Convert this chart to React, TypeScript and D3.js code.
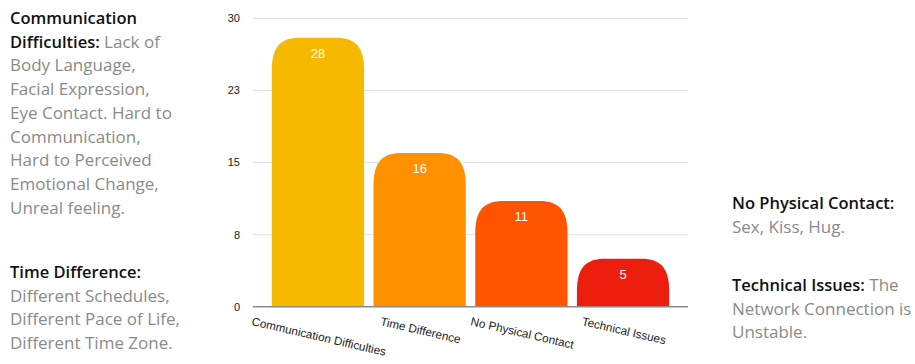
import React, { useEffect, useRef } from "react";
import * as d3 from "d3";

const categories = ["Communication Difficulties", "Time Difference", "No Physical Contact", "Technical Issues"];
const values = [28, 16, 11, 5];
const barColors = ["#F6B900", "#FF9100", "#FF5500", "#EC1F0E"];
const yTicks = [0, 7.5, 15, 22.5, 30];

const leftBlock1 = [
  [{ t: "Communication", b: true }],
  [{ t: "Difficulties:", b: true }, { t: " Lack of", b: false }],
  [{ t: "Body Language,", b: false }],
  [{ t: "Facial Expression,", b: false }],
  [{ t: "Eye Contact. Hard to", b: false }],
  [{ t: "Communication,", b: false }],
  [{ t: "Hard to Perceived", b: false }],
  [{ t: "Emotional Change,", b: false }],
  [{ t: "Unreal feeling.", b: false }],
];
const leftBlock2 = [
  [{ t: "Time Difference:", b: true }],
  [{ t: "Different Schedules,", b: false }],
  [{ t: "Different Pace of Life,", b: false }],
  [{ t: "Different Time Zone.", b: false }],
];
const rightBlock1 = [
  [{ t: "No Physical Contact:", b: true }],
  [{ t: "Sex, Kiss, Hug.", b: false }],
];
const rightBlock2 = [
  [{ t: "Technical Issues:", b: true }, { t: " The", b: false }],
  [{ t: "Network Connection is", b: false }],
  [{ t: "Unstable.", b: false }],
];

const W = 915;
const H = 364;

export default function App() {
  const ref = useRef<SVGSVGElement>(null);

  useEffect(() => {
    const svg = d3.select(ref.current);
    svg.selectAll("*").remove();

    const x = d3.scaleBand<string>().domain(categories).range([253, 688]).paddingInner(0.093).paddingOuter(0.185);
    const y = d3.scaleLinear().domain([0, 30]).range([306.7, 18.5]);

    // gridlines
    svg.append("g")
      .selectAll("line")
      .data(yTicks.filter((d) => d > 0))
      .join("line")
      .attr("x1", 253)
      .attr("x2", 688)
      .attr("y1", (d) => y(d))
      .attr("y2", (d) => y(d))
      .attr("stroke", "#e2e2e2")
      .attr("stroke-width", 1);

    // y tick labels
    svg.append("g")
      .selectAll("text")
      .data(yTicks)
      .join("text")
      .attr("x", 240)
      .attr("y", (d) => y(d))
      .attr("dy", "0.35em")
      .attr("text-anchor", "end")
      .attr("font-family", "Liberation Sans, Arial, sans-serif")
      .attr("font-size", 11)
      .attr("fill", "#222")
      .text((d) => String(Math.round(d)));

    // bars
    const bw = x.bandwidth();
    const barPath = (d: number, i: number) => {
      const x0 = x(categories[i])!;
      const x1 = x0 + bw;
      const top = y(d);
      const bot = y(0);
      const rx = 28;
      const ry = Math.min(32, bot - top);
      const k = 0.3;
      return `M${x0},${bot} L${x0},${top + ry} C${x0},${top + ry * k} ${x0 + rx * k},${top} ${x0 + rx},${top} L${x1 - rx},${top} C${x1 - rx * k},${top} ${x1},${top + ry * k} ${x1},${top + ry} L${x1},${bot} Z`;
    };
    svg.append("g")
      .selectAll("path")
      .data(values)
      .join("path")
      .attr("d", (d, i) => barPath(d, i))
      .attr("fill", (d, i) => barColors[i]);

    // value labels
    svg.append("g")
      .selectAll("text")
      .data(values)
      .join("text")
      .attr("x", (d, i) => x(categories[i])! + bw / 2)
      .attr("y", (d) => y(d) + 20)
      .attr("text-anchor", "middle")
      .attr("font-family", "Liberation Sans, Arial, sans-serif")
      .attr("font-size", 13)
      .attr("fill", "#ffffff")
      .text((d) => String(d));

    // baseline
    svg.append("line")
      .attr("x1", 253)
      .attr("x2", 688)
      .attr("y1", y(0))
      .attr("y2", y(0))
      .attr("stroke", "#8a8a8a")
      .attr("stroke-width", 1.5);

    // x labels rotated
    const angle = 13;
    const rad = (angle * Math.PI) / 180;
    const xl = svg.append("g");
    categories.forEach((c) => {
      const t = xl.append("text")
        .attr("font-family", "Liberation Sans, Arial, sans-serif")
        .attr("font-size", 11.7)
        .attr("fill", "#222")
        .attr("text-anchor", "start")
        .text(c);
      const w = (t.node() as SVGTextElement).getComputedTextLength();
      const cx = x(c)! + bw / 2;
      const px = cx - (w * Math.cos(rad)) / 2;
      const py = 325;
      t.attr("transform", `translate(${px},${py}) rotate(${angle})`);
    });

    // side notes
    const fam = "'Open Sans', sans-serif";
    const drawBlock = (lines: { t: string; b: boolean }[][], x0: number, y0: number, lh: number) => {
      const g = svg.append("g");
      lines.forEach((line, li) => {
        const tx = g.append("text")
          .attr("x", x0)
          .attr("y", y0 + li * lh)
          .attr("font-family", fam);
        line.forEach((seg) => {
          tx.append("tspan")
            .attr("fill", seg.b ? "#111" : "#8a8a8a")
            .attr("font-weight", seg.b ? 600 : 400)
            .attr("font-size", seg.b ? 16.5 : 17)
            .style("white-space", "pre")
            .text(seg.t);
        });
      });
    };
    drawBlock(leftBlock1, 10, 24, 23.7);
    drawBlock(leftBlock2, 10, 278, 23.7);
    drawBlock(rightBlock1, 732, 209, 23.7);
    drawBlock(rightBlock2, 732, 291, 23.5);
  }, []);

  return (
    <svg
      ref={ref}
      width={W}
      height={H}
      style={{ position: "absolute", left: 0, top: 0, background: "#fff" }}
    />
  );
}
